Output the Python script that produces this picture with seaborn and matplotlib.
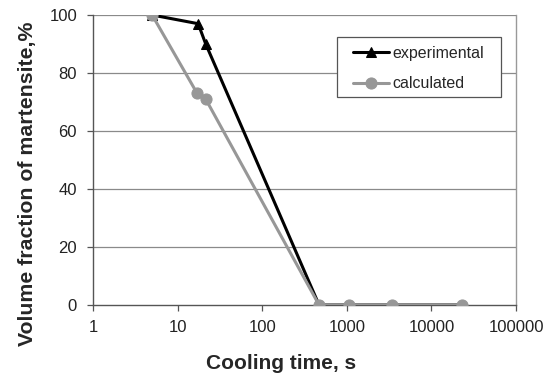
import matplotlib
matplotlib.use("Agg")
import matplotlib.pyplot as plt
from matplotlib.patches import Rectangle
import seaborn as sns
import pandas as pd
import numpy as np

exp_time = [5, 17.5, 21.5, 470, 1070, 3400, 23000]
exp_frac = [100, 97, 90, 0, 0, 0, 0]
calc_time = [5, 17, 21.5, 470, 1070, 3400, 23000]
calc_frac = [100, 73, 71, 0, 0, 0, 0]
x_ticks = [1, 10, 100, 1000, 10000, 100000]
x_ticklabels = ["1", "10", "100", "1000", "10000", "100000"]
y_ticks = [0, 20, 40, 60, 80, 100]

sns.set_style("white")
plt.rcParams['font.family'] = ['Liberation Sans', 'DejaVu Sans']

df = pd.DataFrame({
    "time": exp_time + calc_time,
    "frac": exp_frac + calc_frac,
    "series": ["experimental"] * len(exp_time) + ["calculated"] * len(calc_time),
})

W, H = 558, 376
fig = plt.figure(figsize=(W / 100, H / 100), dpi=100)
ax = fig.add_axes([93/W, 71/H, (516-93)/W, (305-15)/H])

for y in y_ticks[1:]:
    ax.axhline(y, color="#8a8a8a", lw=0.9, zorder=0)

sns.lineplot(data=df[df.series == "experimental"], x="time", y="frac", ax=ax,
             color="black", lw=2.2, marker="^", markersize=7, markeredgecolor="black",
             label="experimental", zorder=3, sort=False)
sns.lineplot(data=df[df.series == "calculated"], x="time", y="frac", ax=ax,
             color="#979797", lw=2.2, marker="o", markersize=8, markeredgecolor="#979797",
             label="calculated", zorder=4, sort=False)

ax.set_xscale("log")
ax.set_xlim(1, 100000)
ax.set_ylim(0, 100)
ax.set_xticks(x_ticks)
ax.set_xticklabels(x_ticklabels)
ax.xaxis.set_minor_locator(matplotlib.ticker.NullLocator())
ax.set_yticks(y_ticks)
ax.tick_params(axis="both", direction="out", length=4.5, width=0.9, color="#555555",
               labelsize=12, labelcolor="#222222", bottom=True, left=True)
ax.tick_params(axis="x", pad=6)
ax.tick_params(axis="y", pad=7)

ax.spines["top"].set_visible(False)
ax.spines["left"].set_color("#555555")
ax.spines["bottom"].set_color("#555555")
ax.spines["right"].set_color("#999999")
for s in ax.spines.values():
    s.set_linewidth(1.0)

ax.set_xlabel("Cooling time, s", fontsize=15, fontweight="bold")
ax.set_ylabel("Volume fraction of martensite,%", fontsize=15.3, fontweight="bold")
# label positions in axes coordinates
ax.xaxis.set_label_coords((281 - 93) / 423, (305 - 354) / 290)
ax.yaxis.set_label_coords((37 - 93) / 423, (305 - 184) / 290)

# legend frame box (drawn separately so padding matches the reference)
frame = Rectangle(((337 - 93) / 423, (305 - 97) / 290), (501 - 337) / 423, (97 - 37) / 290,
                  transform=ax.transAxes, facecolor="white", edgecolor="#555555",
                  linewidth=0.9, zorder=9)
ax.add_patch(frame)

leg = ax.legend(loc="upper left", bbox_to_anchor=((353-93)/423, (305-46)/290),
                frameon=False, fontsize=11.5,
                handlelength=2.25, handletextpad=0.2, borderpad=0.0, labelspacing=0.95,
                borderaxespad=0)
leg.set_zorder(10)

fig.savefig("out.png", dpi=100, facecolor="white")
